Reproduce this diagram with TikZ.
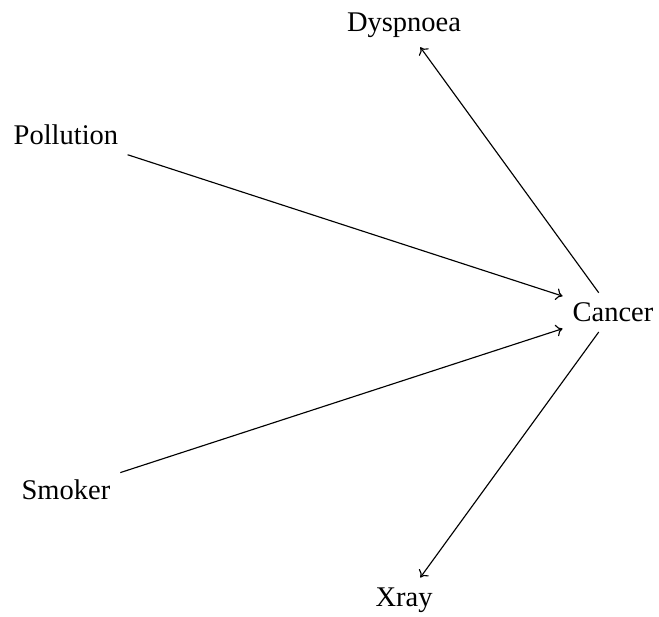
\documentclass[tikz,border=0pt]{standalone}
\usepackage{fontspec}
\setmainfont{Liberation Serif}
\usetikzlibrary{calc,arrows.meta}
\begin{document}
\begin{tikzpicture}[x=1pt,y=1pt,
  var/.style={inner sep=9.5pt, outer sep=0.57pt, font=\fontsize{28.5}{34}\selectfont},
  edge/.style={-{To[length=6.5pt,width=12pt]}, line width=1.14pt}]
\useasboundingbox (0,0) rectangle (659,617);
\coordinate (c) at (310.6,304.6);
\node[var] (cancer) at ($(c)+(0:302.4)$) {Cancer};
\node[var] (dysp) at ($(c)+(72:302.4)$) {Dyspnoea};
\node[var] (poll) at ($(c)+(144:302.4)$) {Pollution};
\node[var] (smoker) at ($(c)+(216:302.4)$) {Smoker};
\node[var] (xray) at ($(c)+(288:302.4)$) {Xray};
\draw[edge] (poll) -- (cancer);
\draw[edge] (smoker) -- (cancer);
\draw[edge] (cancer) -- (dysp);
\draw[edge] (cancer) -- (xray);
\end{tikzpicture}
\end{document}
